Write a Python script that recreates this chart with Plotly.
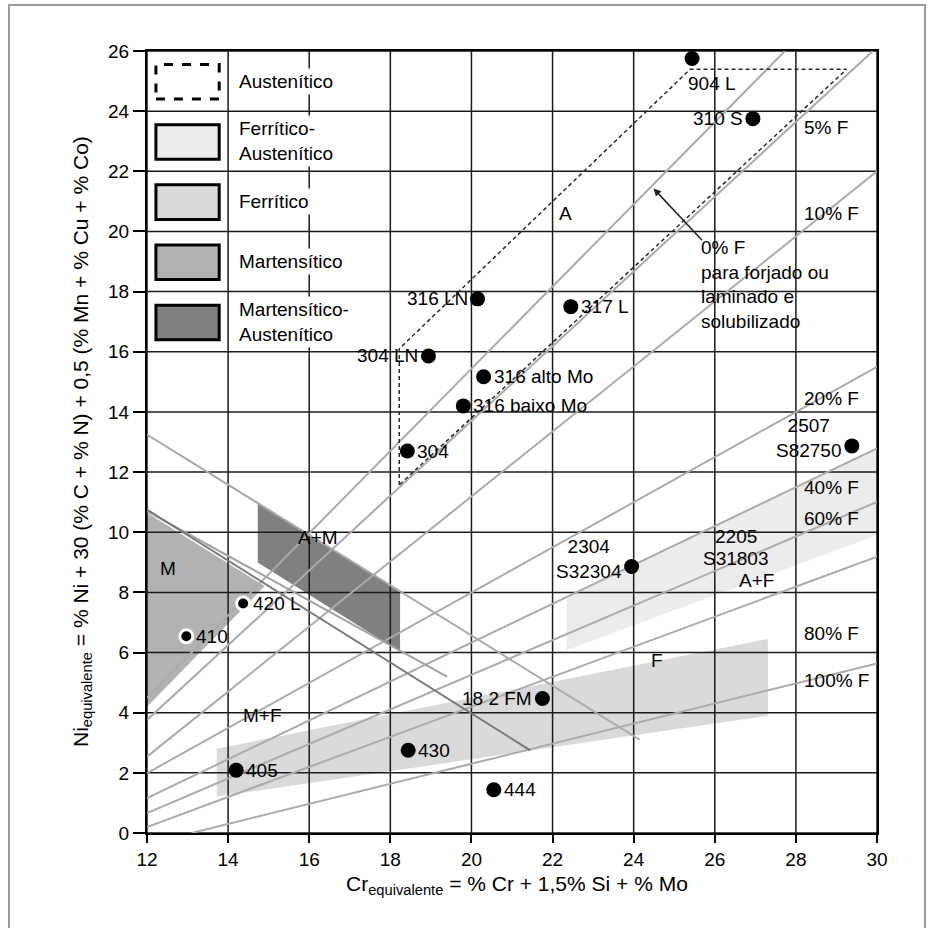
import plotly.graph_objects as go

# ---------------- data ----------------
# Iso-ferrite lines: Cr_eq / Ni_eq at both ends
FERRITE_NAMES = ["0% F", "5% F", "10% F", "20% F", "40% F", "60% F", "80% F", "100% F"]
FERRITE_CR = [(12.0, 27.73), (12.0, 29.9), (12.0, 30.0), (12.0, 30.0),
              (12.0, 30.0), (12.0, 30.0), (12.0, 30.0), (13.1, 30.0)]
FERRITE_NI = [(4.5, 26.0), (3.76, 26.0), (2.54, 22.0), (1.99, 15.5),
              (1.16, 12.79), (0.66, 11.01), (0.2, 9.19), (0.0, 5.64)]
FERRITE_LABEL_NI = [None, 23.46, 20.6, 14.45, 11.49, 10.46, 6.64, 5.06]

# Martensite boundary lines
MART_CR = [(12.0, 19.4), (12.0, 21.45), (12.0, 24.15)]
MART_NI = [(10.7, 5.2), (10.75, 2.75), (13.25, 3.1)]

# Phase regions
AF_CR = [22.35, 22.35, 30.0, 30.0]
AF_NI = [6.08, 7.85, 12.79, 9.9]
F_CR = [13.72, 13.72, 27.31, 27.31]
F_NI = [1.21, 2.8, 6.45, 3.9]
M_CR = [12.0, 14.9, 12.0]
M_NI = [10.65, 8.21, 4.2]
AM_CR = [14.73, 18.24, 18.24, 14.73]
AM_NI = [10.96, 8.02, 6.03, 8.99]
A_CR = [18.22, 18.22, 25.39, 29.25, 18.22]
A_NI = [11.57, 16.1, 25.39, 25.39, 11.57]

# Steel grades
GRADES = ["904 L", "310 S", "316 LN", "317 L", "304 LN", "316 alto Mo", "316 baixo Mo",
          "304", "2507<br>S82750", "2304<br>S32304", "420 L", "410", "18 2 FM",
          "430", "405", "444"]
GRADE_CR = [25.44, 26.94, 20.15, 22.45, 18.94, 20.3, 19.8, 18.42, 29.38, 23.95,
            14.37, 12.97, 21.75, 18.44, 14.2, 20.55]
GRADE_NI = [25.75, 23.75, 17.76, 17.5, 15.86, 15.17, 14.2, 12.7, 12.87, 8.86,
            7.63, 6.54, 4.47, 2.75, 2.09, 1.44]
GRADE_SIDE = ["below", "left", "left", "right", "left", "right", "right", "right",
              "left", "left", "right", "right", "left", "right", "right", "right"]
GRADE_RING = [False] * 10 + [True, True] + [False] * 4

# Region labels
REGION_TEXT = ["A", "A+M", "M", "M+F", "F", "2205", "S31803", "A+F"]
REGION_CR = [22.31, 16.22, 12.52, 14.84, 24.58, 26.52, 26.52, 27.04]
REGION_NI = [20.6, 9.81, 8.81, 3.92, 5.72, 9.85, 9.14, 8.41]

LEGEND_NAMES = ["Austenítico", "Ferrítico-<br>Austenítico", "Ferrítico",
                "Martensítico", "Martensítico-<br>Austenítico"]
LEGEND_FILLS = ["white", "#ececec", "#dadada", "#b2b2b2", "#7f7f7f"]

X_TICKS = list(range(12, 31, 2))
Y_TICKS = list(range(0, 27, 2))

FONT = "Liberation Sans, Arial, sans-serif"
FS = 19

fig = go.Figure()

# region fills
for cr, ni, col in [(AF_CR, AF_NI, "#ececec"), (F_CR, F_NI, "#dadada"),
                    (M_CR, M_NI, "#b2b2b2"), (AM_CR, AM_NI, "#808080")]:
    fig.add_trace(go.Scatter(x=cr + [cr[0]], y=ni + [ni[0]], mode="lines",
                             fill="toself", fillcolor=col, line=dict(width=0),
                             hoverinfo="skip", showlegend=False))

# grid drawn on top of the fills
gx, gy = [], []
for t in X_TICKS:
    gx += [t, t, None]
    gy += [Y_TICKS[0], Y_TICKS[-1], None]
for t in Y_TICKS:
    gx += [X_TICKS[0], X_TICKS[-1], None]
    gy += [t, t, None]
fig.add_trace(go.Scatter(x=gx, y=gy, mode="lines", line=dict(color="#1a1a1a", width=1.5),
                         hoverinfo="skip", showlegend=False))

# iso-ferrite lines
for cr, ni in zip(FERRITE_CR, FERRITE_NI):
    fig.add_trace(go.Scatter(x=list(cr), y=list(ni), mode="lines",
                             line=dict(color="#ababab", width=2),
                             hoverinfo="skip", showlegend=False))

# martensite boundaries
for cr, ni, col in zip(MART_CR, MART_NI, ["#a2a2a2", "#7a7a7a", "#aaaaaa"]):
    fig.add_trace(go.Scatter(x=list(cr), y=list(ni), mode="lines",
                             line=dict(color=col, width=2),
                             hoverinfo="skip", showlegend=False))

# austenite field (dashed)
fig.add_trace(go.Scatter(x=A_CR, y=A_NI, mode="lines",
                         line=dict(color="#2a2a2a", width=1.5, dash="4px,3px"),
                         hoverinfo="skip", showlegend=False))

# steel grades
solid = [i for i, r in enumerate(GRADE_RING) if not r]
ring = [i for i, r in enumerate(GRADE_RING) if r]
fig.add_trace(go.Scatter(x=[GRADE_CR[i] for i in solid], y=[GRADE_NI[i] for i in solid],
                         mode="markers", marker=dict(size=15, color="black"),
                         hoverinfo="skip", showlegend=False))
fig.add_trace(go.Scatter(x=[GRADE_CR[i] for i in ring], y=[GRADE_NI[i] for i in ring],
                         mode="markers",
                         marker=dict(size=13, color="black", line=dict(color="white", width=3)),
                         hoverinfo="skip", showlegend=False))

ann = []
for name, cr, ni, side in zip(GRADES, GRADE_CR, GRADE_NI, GRADE_SIDE):
    a = dict(x=cr, y=ni, text=name, showarrow=False, font=dict(family=FONT, size=FS, color="black"))
    if side == "right":
        a.update(xanchor="left", xshift=8)
    elif side == "left":
        a.update(xanchor="right", xshift=-8, align="center")
        if "<br>" in name:
            a.update(yshift=8)
    else:
        a.update(xanchor="left", xshift=-6, yshift=-25)
    ann.append(a)

for t, cr, ni in zip(REGION_TEXT, REGION_CR, REGION_NI):
    ann.append(dict(x=cr, y=ni, text=t, showarrow=False,
                    font=dict(family=FONT, size=FS, color="black")))

for name, ni in zip(FERRITE_NAMES, FERRITE_LABEL_NI):
    if ni is None:
        continue
    ann.append(dict(x=28.15, y=ni, text=name, showarrow=False, xanchor="left",
                    font=dict(family=FONT, size=FS, color="black")))

# 0% F note with arrow
ann.append(dict(x=25.6, y=18.25, xanchor="left", yanchor="middle", align="left", showarrow=False,
                text="0% F<br>para forjado ou<br>laminado e<br>solubilizado",
                font=dict(family=FONT, size=FS, color="black")))
ann.append(dict(x=24.49, y=21.43, ax=25.72, ay=19.66, axref="x", ayref="y",
                xref="x", yref="y", text="", showarrow=True, arrowhead=2,
                arrowsize=1, arrowwidth=1.5, arrowcolor="#222"))

# legend table
shapes = []
for i, (name, col) in enumerate(zip(LEGEND_NAMES, LEGEND_FILLS)):
    top = Y_TICKS[-1] - 2 * i
    shapes.append(dict(type="rect", xref="x", yref="y", x0=12.22, x1=13.78,
                       y0=top - 1.6, y1=top - 0.45, fillcolor=col, layer="above",
                       line=dict(color="black", width=3, dash="dash" if i == 0 else "solid")))
    ann.append(dict(x=14.2, y=top - 1.0, text=name, xanchor="left", align="left",
                    showarrow=False, bgcolor="white", borderpad=2,
                    font=dict(family=FONT, size=FS, color="black")))

# axis titles
ann.append(dict(xref="paper", yref="paper", x=0.507, y=-0.067, xanchor="center",
                yanchor="middle",
                text="Cr<sub>equivalente</sub> = % Cr + 1,5% Si + % Mo", showarrow=False,
                font=dict(family=FONT, size=21, color="black")))
ann.append(dict(xref="paper", yref="paper", x=-0.089, y=0.5, textangle=-90,
                xanchor="center", yanchor="middle",
                text="Ni<sub>equivalente</sub> = % Ni + 30 (% C + % N) + 0,5 (% Mn + % Cu + % Co)",
                showarrow=False, font=dict(family=FONT, size=21, color="black")))

# outer frame
shapes.append(dict(type="rect", xref="paper", yref="paper", x0=-0.189, x1=1.0658,
                   y0=-0.15, y1=1.0588, line=dict(color="#9a9a9a", width=2)))

fig.update_layout(
    width=933, height=928,
    margin=dict(l=147, r=56, t=51, b=95),
    paper_bgcolor="white", plot_bgcolor="white",
    annotations=ann, shapes=shapes, showlegend=False,
    font=dict(family=FONT, size=FS, color="black"),
)
fig.update_xaxes(range=[12, 30], tickvals=X_TICKS, showgrid=False, zeroline=False,
                 showline=True, linecolor="black", linewidth=2, mirror=True,
                 ticks="outside", ticklen=8, tickwidth=1.5, tickcolor="black",
                 tickfont=dict(family=FONT, size=FS, color="black"))
fig.update_yaxes(range=[0, 26], tickvals=Y_TICKS, showgrid=False, zeroline=False,
                 showline=True, linecolor="black", linewidth=2, mirror=True,
                 ticks="outside", ticklen=12, tickwidth=1.5, tickcolor="black",
                 tickfont=dict(family=FONT, size=FS, color="black"))

fig.write_html("out.html")
